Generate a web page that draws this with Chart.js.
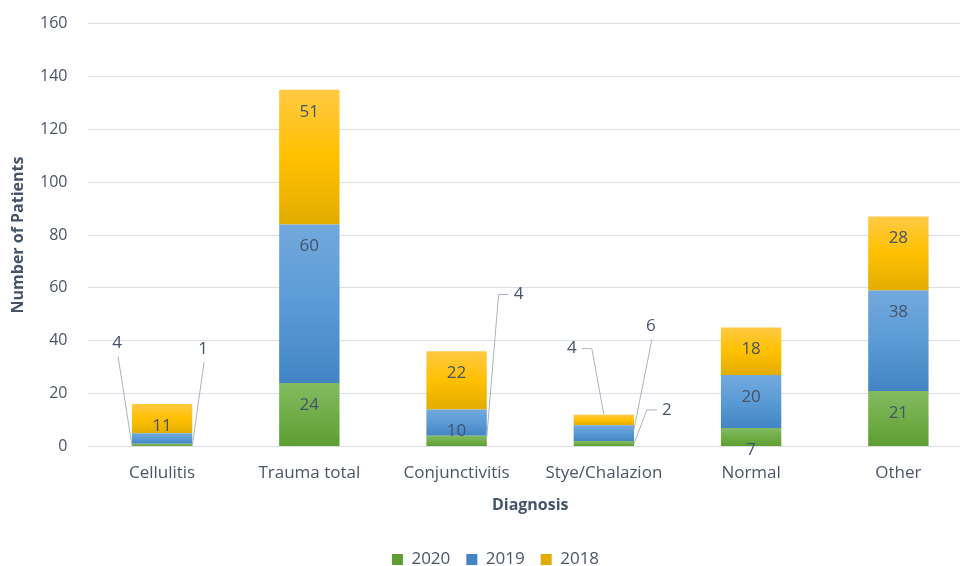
<!DOCTYPE html>
<html lang="en">
<head>
    <meta charset="UTF-8">
    <title>Diagnosis by Year</title>
    <script src="https://cdn.jsdelivr.net/npm/chart.js"></script>
    <style>
        * { margin: 0; padding: 0; }
        body { background: #ffffff; overflow: hidden; }
        #wrap { width: 960px; height: 566px; overflow: hidden; position: relative; }
        #myChart { position: absolute; left: 0; top: -7px; }
    </style>
</head>
<body>
<div id="wrap"><canvas id="myChart" width="972" height="585"></canvas></div>
<script>
    const categories = ['Cellulitis', 'Trauma total', 'Conjunctivitis', 'Stye/Chalazion', 'Normal', 'Other'];
    const years = ['2020', '2019', '2018'];
    const values2020 = [1, 24, 4, 2, 7, 21];
    const values2019 = [4, 60, 10, 6, 20, 38];
    const values2018 = [11, 51, 22, 4, 18, 28];
    const yMax = 160;
    const yStep = 20;

    const seriesValues = [values2020, values2019, values2018];

    const textColor = '#44546A';
    const tickColor = '#4b5567';
    const fontFamily = "'Open Sans', 'Noto Sans', sans-serif";

    // top / middle / bottom colours of each series gradient
    const shades = [
        ['#84bb62', '#70ad47', '#5e9d33'],
        ['#72a9dd', '#5b9bd5', '#4284c4'],
        ['#ffc944', '#ffc000', '#e2ad00']
    ];

    // small segments get an outside label with a leader line
    // key: datasetIndex-categoryIndex
    const callouts = {
        '1-0': { dx: -45, y: 39, ex: -1, ey: 0.5, elbow: null },
        '0-0': { dx: 41, y: 36.8, ex: 1, ey: 0.3, elbow: null },
        '0-2': { dx: 62, y: 57.5, ex: 1, ey: 3.5, elbow: 'left' },
        '2-3': { dx: -32, y: 37, ex: 0, ey: 12, elbow: 'right' },
        '1-3': { dx: 47, y: 45.4, ex: 1, ey: 6.5, elbow: null },
        '0-3': { dx: 63, y: 13.8, ex: 1, ey: 1, elbow: 'left' }
    };

    function segmentFill(context) {
        const chart = context.chart;
        const di = context.datasetIndex;
        const i = context.dataIndex;
        const yScale = chart.scales.y;
        if (i === undefined || !yScale) return shades[di][1];
        let start = 0;
        for (let k = 0; k < di; k++) start += seriesValues[k][i];
        const end = start + seriesValues[di][i];
        const top = yScale.getPixelForValue(end);
        const bottom = yScale.getPixelForValue(start);
        if (!isFinite(top) || !isFinite(bottom) || bottom - top < 1) return shades[di][1];
        const g = chart.ctx.createLinearGradient(0, top, 0, bottom);
        g.addColorStop(0, shades[di][0]);
        g.addColorStop(0.5, shades[di][1]);
        g.addColorStop(1, shades[di][2]);
        return g;
    }

    const labelPlugin = {
        id: 'segmentLabels',
        afterDatasetsDraw(chart) {
            const ctx = chart.ctx;
            const yScale = chart.scales.y;
            ctx.save();
            ctx.font = "17px " + fontFamily;
            ctx.fillStyle = textColor;
            ctx.textAlign = 'center';
            ctx.textBaseline = 'middle';
            chart.data.datasets.forEach((ds, di) => {
                const meta = chart.getDatasetMeta(di);
                meta.data.forEach((el, i) => {
                    const value = ds.data[i];
                    const c = callouts[di + '-' + i];
                    if (c) {
                        const tx = el.x + c.dx;
                        const ty = yScale.getPixelForValue(c.y);
                        ctx.fillText(String(value), tx, ty);
                        const endX = el.x + c.ex * el.width / 2;
                        const endY = yScale.getPixelForValue(c.ey);
                        ctx.beginPath();
                        ctx.strokeStyle = '#a9b3c2';
                        ctx.lineWidth = 1;
                        if (c.elbow === 'left') {
                            ctx.moveTo(tx - 10, ty);
                            ctx.lineTo(tx - 20, ty);
                        } else if (c.elbow === 'right') {
                            ctx.moveTo(tx + 10, ty);
                            ctx.lineTo(tx + 20, ty);
                        } else {
                            ctx.moveTo(tx + 1, ty + 13);
                        }
                        ctx.lineTo(endX, endY);
                        ctx.stroke();
                    } else {
                        ctx.fillText(String(value), el.x, el.y + 22);
                    }
                });
            });
            ctx.restore();
        }
    };

    // y axis title, drawn by hand so it sits where the original has it
    const yTitlePlugin = {
        id: 'yTitle',
        afterDraw(chart) {
            const ctx = chart.ctx;
            const area = chart.chartArea;
            ctx.save();
            ctx.translate(18, (area.top + area.bottom) / 2);
            ctx.rotate(-Math.PI / 2);
            ctx.font = "bold 16px " + fontFamily;
            ctx.fillStyle = textColor;
            ctx.textAlign = 'center';
            ctx.textBaseline = 'middle';
            ctx.fillText('Number of Patients', 0, 0);
            ctx.restore();
        }
    };

    const ctx = document.getElementById('myChart').getContext('2d');
    const chart = new Chart(ctx, {
        type: 'bar',
        data: {
            labels: categories,
            datasets: years.map((yr, i) => ({
                label: yr,
                data: seriesValues[i],
                backgroundColor: segmentFill,
                borderWidth: 0,
                barPercentage: 0.41,
                categoryPercentage: 1
            }))
        },
        options: {
            responsive: false,
            animation: false,
            layout: { padding: { top: 0, right: 0, left: 19, bottom: 0 } },
            scales: {
                x: {
                    stacked: true,
                    grid: { display: false },
                    border: { display: false },
                    ticks: {
                        color: tickColor,
                        padding: 9,
                        font: { family: fontFamily, size: 17 }
                    },
                    title: {
                        display: true,
                        text: 'Diagnosis',
                        color: textColor,
                        font: { family: fontFamily, size: 16, weight: 'bold' },
                        padding: { top: 3, bottom: 20 }
                    }
                },
                y: {
                    stacked: true,
                    min: 0,
                    max: yMax,
                    grid: { color: '#d9dde6', lineWidth: 1, drawTicks: false },
                    border: { display: false },
                    ticks: {
                        stepSize: yStep,
                        color: tickColor,
                        padding: 21,
                        font: { family: fontFamily, size: 16 }
                    },
                    title: { display: false }
                }
            },
            plugins: {
                legend: {
                    position: 'bottom',
                    labels: {
                        boxWidth: 11,
                        boxHeight: 11,
                        color: tickColor,
                        padding: 16,
                        font: { family: fontFamily, size: 17 }
                    }
                },
                tooltip: { enabled: false }
            }
        },
        plugins: [labelPlugin, yTitlePlugin]
    });
</script>
</body>
</html>
